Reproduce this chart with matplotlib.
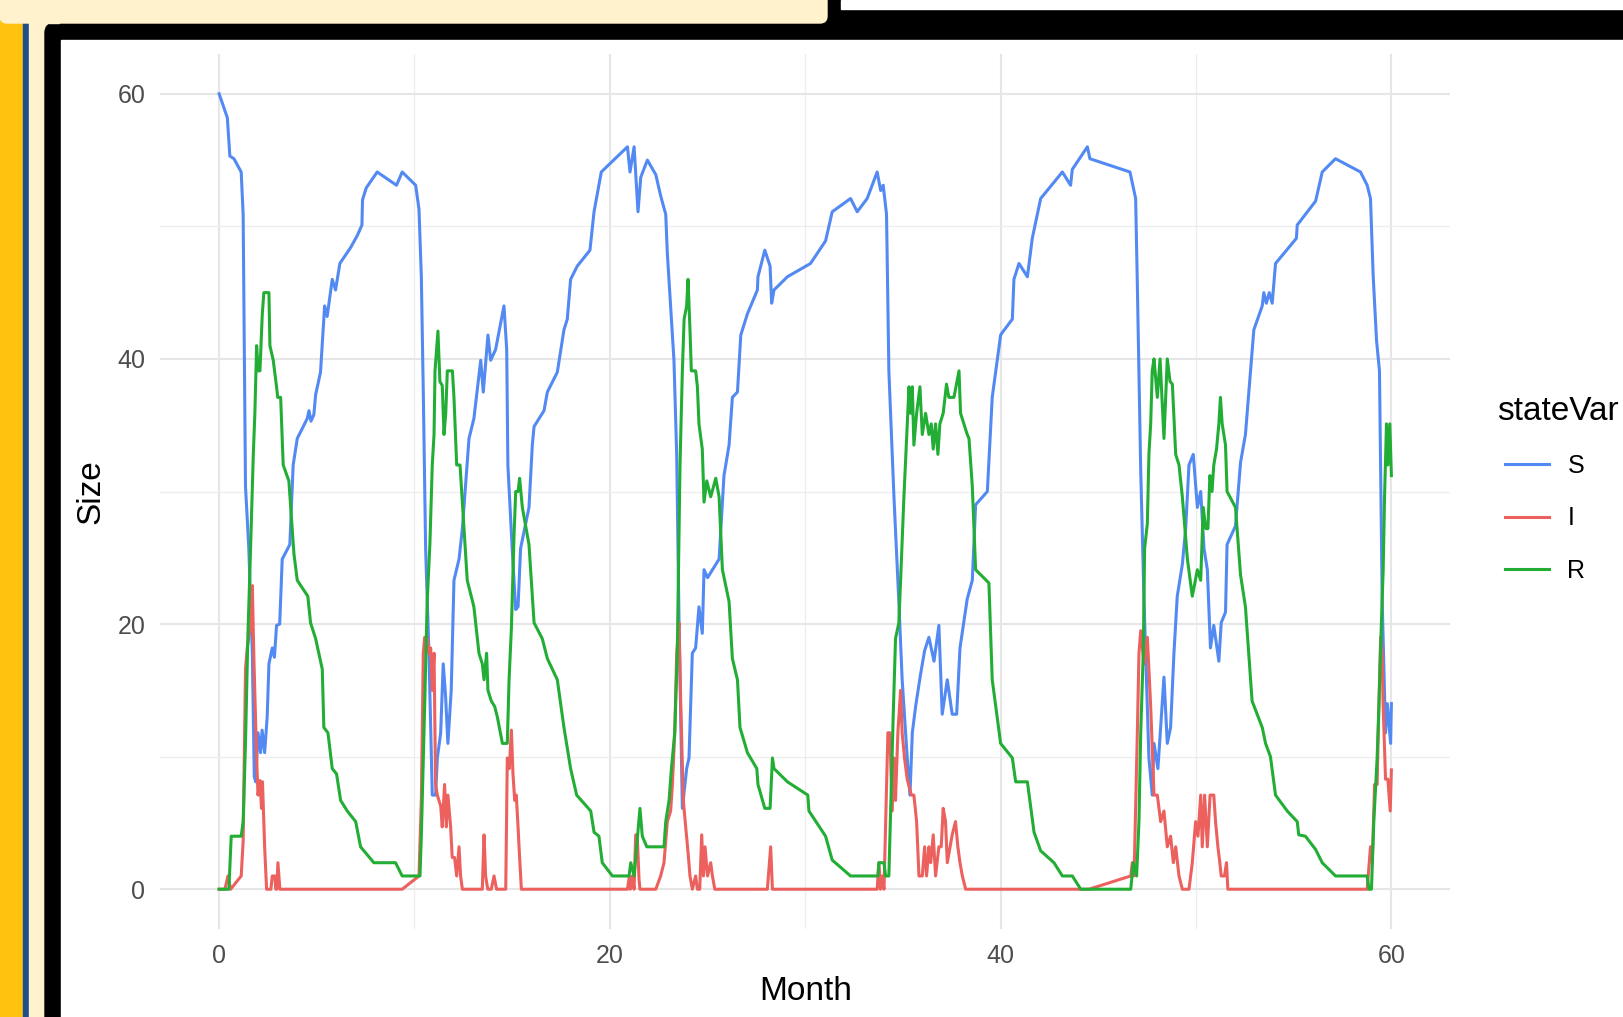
import matplotlib
matplotlib.use("Agg")
import matplotlib.pyplot as plt
from matplotlib.patches import Rectangle, FancyBboxPatch
from matplotlib.lines import Line2D

plt.rcParams['font.family'] = ['Liberation Sans', 'DejaVu Sans']

# values: (month, size)
s_points = [(0.0,60),(0.42,58.2),(0.55,55.3),(0.76,55.1),(1.13,54.1),(1.23,50.9),(1.35,30.4),(1.52,25.7),(1.7,17.8),(1.8,8.5),(1.87,8.1),(1.99,11.8),(2.12,10.3),(2.2,12),(2.33,10.3),(2.46,13),(2.55,17),(2.72,18.2),(2.83,17.5),(2.94,19.9),(3.1,20),(3.23,24.9),(3.62,26),(3.79,32),(4.0,34),(4.51,35.5),(4.6,36.1),(4.7,35.3),(4.85,35.8),(4.94,37.3),(5.19,39),(5.4,44),(5.53,43.2),(5.79,46),(5.96,45.2),(6.18,47.2),(6.73,48.4),(7.07,49.3),(7.31,50.1),(7.34,52),(7.53,52.9),(8.09,54.1),(9.08,53.1),(9.37,54.1),(10.06,53.1),(10.23,51.3),(10.35,46.2),(10.45,37.5),(10.57,25.7),(10.74,17.8),(10.91,7.1),(11.08,7.1),(11.17,9.9),(11.34,11.8),(11.47,17),(11.59,14.6),(11.71,11),(11.88,15),(12.02,23.3),(12.28,24.9),(12.45,27.2),(12.79,34),(13.04,35.5),(13.39,39.9),(13.52,37.5),(13.76,41.8),(13.9,39.9),(14.15,40.7),(14.58,44),(14.72,40.7),(14.78,32),(15.0,25.7),(15.18,21.1),(15.3,21.3),(15.43,25.7),(15.86,28.8),(16.03,33.5),(16.12,34.9),(16.63,36.1),(16.8,37.5),(17.31,39),(17.65,42.2),(17.82,43),(17.99,46),(18.33,47),(18.98,48.2),(19.19,51.1),(19.56,54.1),(19.7,54.3),(20.9,56),(21.03,54.1),(21.24,56),(21.44,51.1),(21.58,53.7),(21.92,55),(22.35,53.9),(22.6,52.3),(22.86,50.9),(22.94,48),(23.11,44),(23.28,39.9),(23.42,32.8),(23.54,20.1),(23.71,6.1),(23.93,9.1),(24.05,9.9),(24.22,17.8),(24.39,18.2),(24.56,21.3),(24.73,19.3),(24.82,24.1),(25.0,23.5),(25.25,24.1),(25.59,24.9),(25.84,31.2),(26.1,33.5),(26.27,37.1),(26.53,37.5),(26.7,41.8),(27.04,43.4),(27.55,45.2),(27.58,46.2),(27.93,48.2),(28.2,47),(28.28,44.2),(28.4,45.2),(29.09,46.2),(30.27,47.2),(31.04,48.9),(31.38,51.1),(32.32,52.1),(32.66,51.1),(33.17,52.1),(33.68,54.1),(33.86,52.7),(33.99,53.1),(34.16,50.9),(34.28,39.1),(34.54,29.6),(34.79,21.7),(34.96,15.8),(35.22,9.9),(35.36,7.1),(35.48,11.8),(35.65,13.8),(35.9,16.2),(36.11,18),(36.33,19),(36.59,17.2),(36.84,19.9),(37.01,13.2),(37.27,15.8),(37.52,13.2),(37.75,13.2),(37.92,18.2),(38.29,21.9),(38.55,23.3),(38.72,29),(39.32,30),(39.57,37.1),(40.0,41.8),(40.09,42),(40.6,43),(40.68,46),(40.94,47.2),(41.37,46.2),(41.62,49.1),(42.05,52.1),(43.16,54.1),(43.58,53.1),(43.67,54.3),(44.44,56),(44.57,55.1),(46.62,54.1),(46.91,52.1),(47.0,45.4),(47.17,31.6),(47.34,21.7),(47.59,9.9),(47.76,7.1),(47.85,11),(48.05,9.1),(48.19,12.2),(48.36,16),(48.53,11),(48.7,12.2),(48.87,17.8),(49.04,22.1),(49.3,24.5),(49.47,27.2),(49.64,32),(49.86,32.8),(50.07,28.8),(50.24,30),(50.41,25.7),(50.58,24.1),(50.74,18.2),(50.91,19.9),(51.17,17.2),(51.29,20.1),(51.51,20.9),(51.59,26),(52.02,27.4),(52.28,32.2),(52.53,34.3),(52.96,42.2),(53.39,44),(53.47,45),(53.6,44.2),(53.75,45),(53.9,44.2),(54.07,47.2),(55.14,49.1),(55.18,50.1),(56.12,51.9),(56.46,54.1),(57.14,55.1),(58.42,54.1),(58.76,53.1),(58.93,52.1),(59.07,46.2),(59.24,41.4),(59.39,39.1),(59.53,21.7),(59.7,11.8),(59.79,14),(59.96,11),(60.0,14)]

i_points = [(0.0,0),(0.3,0),(0.45,1),(0.59,0),(1.13,1),(1.23,3.6),(1.3,11),(1.35,16.6),(1.44,18.2),(1.61,19.8),(1.7,22.9),(1.78,17.4),(1.92,9.9),(1.99,7.1),(2.09,8.2),(2.17,6.1),(2.22,8.1),(2.33,3.2),(2.43,0),(2.65,0),(2.72,1),(2.85,1),(2.9,0),(2.95,0),(3.01,2),(3.11,0),(9.37,0),(10.23,1),(10.35,6.7),(10.45,17.8),(10.52,19),(10.65,19),(10.74,17.8),(10.83,18.2),(10.91,15),(11.0,17.8),(11.08,7.9),(11.17,7.1),(11.25,6.7),(11.34,6.3),(11.42,4.7),(11.54,7.9),(11.63,4.7),(11.71,7.1),(11.85,4.7),(11.93,2.4),(12.05,2.4),(12.16,1),(12.28,3.2),(12.36,1),(12.45,0),(13.47,0),(13.56,4.1),(13.64,1),(13.75,0),(13.93,0),(14.07,1),(14.2,0),(14.67,0),(14.75,9.9),(14.85,9.1),(14.96,12),(15.04,8.7),(15.13,6.7),(15.21,7.1),(15.3,4.7),(15.38,2.4),(15.47,0),(20.9,0),(21.0,1),(21.05,0),(21.15,1),(21.24,0),(21.32,4.1),(21.4,4.1),(21.49,0.8),(21.54,0),(22.35,0),(22.6,1),(22.77,2),(22.94,5.1),(23.11,5.9),(23.2,7.9),(23.32,11.8),(23.42,17.8),(23.54,20.1),(23.63,13.8),(23.76,6.7),(23.88,4.7),(24.0,2.8),(24.1,1),(24.22,0),(24.39,1),(24.48,0),(24.6,0),(24.7,4.1),(24.79,1),(24.87,3.2),(25.0,1),(25.16,2),(25.25,1),(25.37,0),(28.06,0),(28.23,3.2),(28.32,0),(33.68,0),(33.77,2),(33.85,0),(33.93,1),(34.03,0),(34.23,11.8),(34.33,11.8),(34.45,5.9),(34.54,9.9),(34.62,6.7),(34.74,11.8),(34.88,15),(34.96,11.8),(35.08,9.9),(35.22,8.3),(35.43,7.1),(35.56,7.1),(35.7,5.1),(35.82,1),(35.99,1),(36.11,3.2),(36.21,1),(36.33,3.2),(36.42,2),(36.55,4.1),(36.67,1),(36.84,3.2),(36.96,3.2),(37.06,6.1),(37.18,5.1),(37.27,2),(37.41,3.2),(37.52,4.1),(37.69,5.1),(37.81,3.2),(37.92,2),(38.04,1),(38.21,0),(44.52,0),(46.66,1),(46.74,2),(46.83,1),(46.91,6.1),(47.0,12),(47.08,17.8),(47.17,19.5),(47.34,17),(47.51,19),(47.68,13.8),(47.85,7.1),(48.02,7.1),(48.19,5.1),(48.36,5.9),(48.53,3.2),(48.7,4),(48.84,2),(48.96,3.2),(49.13,1),(49.3,0),(49.64,0),(49.81,2),(49.98,5.1),(50.1,4),(50.24,7.1),(50.32,3.2),(50.44,7.1),(50.58,3.2),(50.72,7.1),(50.85,7.1),(50.91,7.1),(51.0,5.1),(51.12,3.2),(51.22,2),(51.29,1),(51.46,1),(51.56,2),(51.63,0),(58.76,0),(58.93,3.2),(59.02,2),(59.14,7.9),(59.27,7.9),(59.36,13.8),(59.45,19),(59.52,17.8),(59.58,13.8),(59.7,8.3),(59.82,8.3),(59.94,5.9),(60.0,9)]

r_points = [(0.0,0),(0.5,0),(0.62,4),(1.13,4),(1.23,5.1),(1.35,11),(1.47,19),(1.61,25.7),(1.75,32.8),(1.83,35.9),(1.92,41),(2.0,39.1),(2.09,39.1),(2.21,43.4),(2.29,45),(2.55,45),(2.6,41),(2.77,39.9),(2.94,37.9),(3.0,37.1),(3.15,37.1),(3.28,32),(3.57,30.8),(3.83,25.3),(4.0,23.3),(4.54,22.1),(4.68,20.1),(4.94,18.9),(5.28,16.6),(5.36,12.2),(5.57,11.8),(5.79,9.1),(6.01,8.7),(6.22,6.7),(6.56,5.9),(6.99,5.1),(7.24,3.2),(7.92,2),(9.03,2),(9.37,1),(10.28,1),(10.35,4),(10.52,13.8),(10.65,21.7),(10.79,26.1),(10.91,32),(11.0,34.3),(11.05,39.1),(11.2,42.1),(11.3,38.3),(11.42,38),(11.51,34.3),(11.6,35.9),(11.68,39.1),(11.94,39.1),(12.02,37.1),(12.16,32),(12.33,32),(12.45,29.2),(12.7,23.3),(13.04,21.3),(13.3,17.8),(13.47,17),(13.56,15.8),(13.69,17.8),(13.76,15),(13.93,14.2),(14.1,13.8),(14.24,13),(14.5,11),(14.75,11),(14.84,15.8),(14.96,19.7),(15.09,26.5),(15.18,30),(15.3,30),(15.38,31),(15.52,28.8),(15.86,26),(16.12,20.1),(16.54,18.9),(16.8,17.4),(17.31,15.8),(17.65,12.2),(17.99,9.1),(18.3,7.1),(19.02,5.9),(19.19,4.3),(19.44,4),(19.61,2),(20.13,1),(20.98,1),(21.07,2),(21.24,1),(21.37,3.2),(21.54,6.1),(21.66,4),(21.89,3.2),(22.77,3.2),(22.86,5.1),(23.03,6.7),(23.15,9.1),(23.32,11.8),(23.45,17.8),(23.59,32),(23.71,39.1),(23.8,43),(23.93,44),(24.0,46),(24.1,42.2),(24.17,39.1),(24.39,39.1),(24.48,37.9),(24.56,35.1),(24.73,33.2),(24.82,29.2),(24.96,30.8),(25.16,29.6),(25.42,31),(25.59,29.6),(25.76,24.1),(26.1,21.7),(26.27,17.4),(26.53,15.8),(26.66,12.2),(27.04,10.3),(27.52,9.1),(27.58,7.9),(27.93,6.1),(28.2,6.1),(28.32,9.9),(28.4,9.1),(29.09,8.1),(30.13,7.1),(30.19,5.9),(31.04,4),(31.38,2.2),(32.32,1),(33.72,1),(33.77,2),(34.03,2),(34.11,1),(34.28,1),(34.37,5.9),(34.5,13),(34.62,18.9),(34.79,20.1),(34.88,23.3),(35.05,29.6),(35.22,35.1),(35.31,37.9),(35.39,35.9),(35.48,37.9),(35.56,33.5),(35.7,35.9),(35.87,37.9),(35.99,34.3),(36.16,35.9),(36.33,34.3),(36.45,35.1),(36.55,33.2),(36.67,35.1),(36.79,32.8),(36.89,35.1),(37.06,35.9),(37.23,38.1),(37.35,37.1),(37.61,37.1),(37.87,39.1),(37.95,35.9),(38.12,35.1),(38.29,34.3),(38.38,34),(38.55,30.4),(38.72,24.1),(39.4,23.1),(39.57,15.8),(40.0,11),(40.6,9.9),(40.77,8.1),(41.37,8.1),(41.71,4.3),(42.05,2.9),(42.73,2),(43.16,1),(43.67,1),(44.1,0),(46.66,0),(46.79,2),(46.96,1),(47.08,5.1),(47.17,11.8),(47.3,17.8),(47.37,25.7),(47.51,27.6),(47.59,32.8),(47.68,35.1),(47.76,39.1),(47.85,40),(48.02,37.1),(48.16,40),(48.36,34),(48.53,40),(48.67,38.3),(48.79,38.1),(48.96,32.8),(49.13,32),(49.3,29.6),(49.56,24.9),(49.81,22.1),(50.07,24.1),(50.24,23.3),(50.37,28.8),(50.5,27.2),(50.61,27.2),(50.71,31.2),(50.82,30),(50.91,32),(51.05,33.2),(51.17,35.1),(51.25,37.1),(51.34,35.1),(51.51,33.5),(51.59,30),(52.02,28.8),(52.28,23.7),(52.53,21.3),(52.87,14.2),(53.39,12.2),(53.56,11),(53.81,10),(54.07,7.1),(54.67,5.9),(55.18,5.1),(55.26,4.1),(55.6,4),(56.12,3),(56.46,2),(57.14,1),(58.76,1),(58.85,0),(58.98,0),(59.1,5.1),(59.27,9.9),(59.36,13.8),(59.48,19.7),(59.58,24.1),(59.65,29.6),(59.75,35.1),(59.82,32),(59.92,35.1),(60.0,31.2)]

state_names = ['S', 'I', 'R']
state_colors = ['#5289F2', '#EC605E', '#22AE35']
x_ticks = [0, 20, 40, 60]
y_ticks = [0, 20, 40, 60]

W, H = 1624, 1017
fig = plt.figure(figsize=(W / 100, H / 100), dpi=100)

# slide-like frame around the screenshot (pixel coords)
bg = fig.add_axes([0, 0, 1, 1], zorder=0)
bg.set_xlim(0, W)
bg.set_ylim(H, 0)
bg.axis('off')
bg.add_patch(Rectangle((0, 0), 23, H, color='#FFC20E'))
bg.add_patch(Rectangle((23, 0), 6, H, color='#1F4E8C'))
bg.add_patch(Rectangle((29, 0), 80, H, color='#FFF2CC'))
bg.add_patch(FancyBboxPatch((45, 23), 1700, 1100, boxstyle='round,pad=0,rounding_size=10', color='black'))
bg.add_patch(Rectangle((800, 0), W - 800, 40, color='black'))
bg.add_patch(Rectangle((841, 0), W - 841, 9, color='white'))
bg.add_patch(FancyBboxPatch((0, -30), 827, 53, boxstyle='round,pad=0,rounding_size=7', color='#FFF2CC'))
bg.add_patch(Rectangle((29, -30), 30, 53, color='#FFF2CC'))
bg.add_patch(Rectangle((61, 40), W - 61, H - 40, color='white'))

ax = fig.add_axes([160.5 / W, 1 - 929 / H, 1289.5 / W, 875 / H], zorder=1)
ax.patch.set_alpha(0)

for pts, name, col in zip([s_points, i_points, r_points], state_names, state_colors):
    ax.plot([p[0] for p in pts], [p[1] for p in pts], color=col, lw=2.2, label=name, solid_joinstyle='round')

ax.set_xlim(-3, 63)
ax.set_ylim(-3, 63)
ax.set_xticks(x_ticks)
ax.set_yticks(y_ticks)
ax.set_xticks([10, 30, 50], minor=True)
ax.set_yticks([10, 30, 50], minor=True)
ax.grid(which='major', color='#E6E6E6', lw=1.5)
ax.grid(which='minor', color='#EDEDED', lw=0.9)
ax.set_axisbelow(True)
ax.tick_params(which='both', length=0)
ax.tick_params(axis='y', pad=11, labelsize=18, labelcolor='#4D4D4D')
ax.tick_params(axis='x', pad=11, labelsize=18, labelcolor='#4D4D4D')
for sp in ax.spines.values():
    sp.set_visible(False)

ax.set_xlabel('Month', fontsize=24)
ax.set_ylabel('Size', fontsize=24)
ax.xaxis.label.set_va('center')
ax.yaxis.label.set_va('center')
ax.xaxis.set_label_coords(0.5, ((H - 991) / H - (1 - 929 / H)) / (875 / H))
ax.yaxis.set_label_coords((91 - 160.5) / 1289.5, 0.5)

# legend title placed by hand, keys through ax.legend
fig.text(1497 / W, 1 - 412 / H, 'stateVar', fontsize=24, ha='left', va='center')
handles = [Line2D([], [], color=c, lw=2.2) for c in state_colors]
leg = ax.legend(handles, state_names, loc='upper left',
                bbox_to_anchor=(1505 / W, 1 - 454 / H), bbox_transform=fig.transFigure,
                frameon=False, borderpad=0, borderaxespad=0, fontsize=18,
                handlelength=1.75, handletextpad=0.75, labelspacing=1.14)

fig.savefig('out.png', dpi=100)
